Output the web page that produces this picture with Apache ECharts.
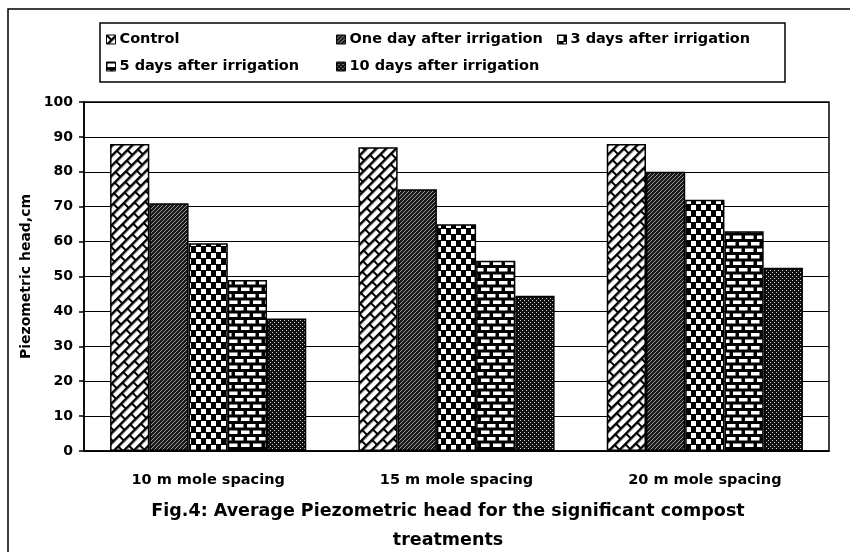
<!DOCTYPE html>
<html>
<head>
<meta charset="utf-8">
<script src="https://cdn.jsdelivr.net/npm/echarts@6/dist/echarts.min.js"></script>
<style>
  html, body { margin: 0; padding: 0; background: #fff; }
  #main { width: 850px; height: 552px; }
</style>
</head>
<body>
<div id="main"></div>
<script>
// data
const categories = ['10 m mole spacing', '15 m mole spacing', '20 m mole spacing'];
const seriesNames = ['Control', 'One day after irrigation', '3 days after irrigation',
  '5 days after irrigation', '10 days after irrigation'];
const control = [88, 87, 88];
const oneDay = [71, 75, 80];
const threeDays = [59.5, 65, 72];
const fiveDays = [49, 54.5, 63];
const tenDays = [38, 44.5, 52.5];
const yTicks = [0, 10, 20, 30, 40, 50, 60, 70, 80, 90, 100];

const FONT = '"DejaVu Sans", "Liberation Sans", sans-serif';

function tile(w, h, draw) {
  const c = document.createElement('canvas');
  c.width = w; c.height = h;
  draw(c.getContext('2d'));
  return c;
}

// bricks (white, black mortar); the pattern is turned so they run "/"
const brickTile = tile(16, 14, function (g) {
  g.fillStyle = '#000'; g.fillRect(0, 0, 16, 14);
  g.fillStyle = '#fff';
  g.fillRect(1, 1.5, 14, 4.5);
  g.fillRect(9, 8.5, 14, 4.5);
  g.fillRect(-7, 8.5, 14, 4.5);
});
// fine hatch
const hatchTile = tile(4, 4, function (g) {
  g.fillStyle = '#1a1a1a'; g.fillRect(0, 0, 4, 4);
  g.strokeStyle = '#a8a8a8'; g.lineWidth = 0.9;
  g.beginPath();
  g.moveTo(-1, 5); g.lineTo(5, -1);
  g.stroke();
});
// big confetti squares
const checkTile = tile(10, 12, function (g) {
  g.fillStyle = '#000'; g.fillRect(0, 0, 10, 12);
  g.fillStyle = '#fff';
  g.fillRect(1, 1, 5, 5);
  g.fillRect(6, 7, 5, 5);
  g.fillRect(-4, 7, 5, 5);
});
// horizontal dashes
const dashTile = tile(12, 13, function (g) {
  g.fillStyle = '#000'; g.fillRect(0, 0, 12, 13);
  g.fillStyle = '#fff';
  g.fillRect(1, 1.5, 8.5, 3.5);
  g.fillRect(7, 8, 8.5, 3.5);
  g.fillRect(-5, 8, 8.5, 3.5);
});
// fine dots
const dotTile = tile(4, 4, function (g) {
  g.fillStyle = '#111'; g.fillRect(0, 0, 4, 4);
  g.fillStyle = '#cfcfcf';
  g.fillRect(0, 0, 1, 1);
  g.fillRect(2, 2, 1, 1);
});

const fills = [
  { image: brickTile, repeat: 'repeat', rotation: -Math.PI / 4 },
  { image: hatchTile, repeat: 'repeat' },
  { image: checkTile, repeat: 'repeat' },
  { image: dashTile, repeat: 'repeat' },
  { image: dotTile, repeat: 'repeat' }
];
const values = [control, oneDay, threeDays, fiveDays, tenDays];

const legendPos = [
  { left: 106, top: 32 }, { left: 336, top: 32 }, { left: 557, top: 32 },
  { left: 106, top: 59 }, { left: 336, top: 59 }
];

const chart = echarts.init(document.getElementById('main'), null, { renderer: 'canvas' });
const option = {
  animation: false,
  backgroundColor: '#fff',
  textStyle: { fontFamily: FONT, color: '#000' },
  title: {
    text: 'Fig.4: Average Piezometric head for the significant compost\ntreatments',
    left: 443, top: 492, textAlign: 'center',
    textStyle: { fontFamily: FONT, fontWeight: 'bold', fontSize: 17.5, color: '#000', lineHeight: 29 }
  },
  legend: legendPos.map(function (p, i) {
    return {
      data: [seriesNames[i]], left: p.left, top: p.top,
      itemWidth: 9, itemHeight: 9, itemGap: 4, padding: 0,
      icon: 'rect',
      itemStyle: { borderColor: '#000', borderWidth: 1 },
      textStyle: { fontFamily: FONT, fontWeight: 'bold', fontSize: 14.5, color: '#000', padding: [0, 0, 0, -1] }
    };
  }),
  graphic: [
    { type: 'polyline', silent: true,
      shape: { points: [[8, 552], [8, 9], [850, 9]] },
      style: { stroke: '#000', lineWidth: 1.5, fill: null } },
    { type: 'rect', silent: true,
      shape: { x: 100, y: 23, width: 685, height: 59 },
      style: { stroke: '#000', lineWidth: 1.5, fill: null } }
  ],
  grid: {
    left: 84, right: 21, top: 102, bottom: 101,
    show: true, borderColor: '#000', borderWidth: 1.5
  },
  xAxis: {
    type: 'category',
    data: categories,
    axisLine: { lineStyle: { color: '#000', width: 1.5 } },
    axisTick: { show: false },
    axisLabel: { fontFamily: FONT, fontWeight: 'bold', fontSize: 14.5, color: '#000', margin: 22 }
  },
  yAxis: {
    type: 'value',
    min: yTicks[0], max: yTicks[yTicks.length - 1], interval: 10,
    name: 'Piezometric head,cm',
    nameLocation: 'middle', nameGap: 48,
    nameTextStyle: { fontFamily: FONT, fontWeight: 'bold', fontSize: 14, color: '#000' },
    axisLine: { show: true, lineStyle: { color: '#000', width: 1.5 } },
    axisTick: { show: true, inside: false, length: 5, lineStyle: { color: '#000', width: 1.5 } },
    axisLabel: { fontFamily: FONT, fontWeight: 'bold', fontSize: 14, color: '#000', margin: 11 },
    splitLine: { lineStyle: { color: '#000', width: 1.2 } }
  },
  series: seriesNames.map(function (name, i) {
    return {
      name: name,
      type: 'bar',
      data: values[i],
      barGap: '0%',
      barCategoryGap: '21%',
      itemStyle: { color: fills[i], borderColor: '#000', borderWidth: 1.5 }
    };
  })
};
chart.setOption(option);
</script>
</body>
</html>
